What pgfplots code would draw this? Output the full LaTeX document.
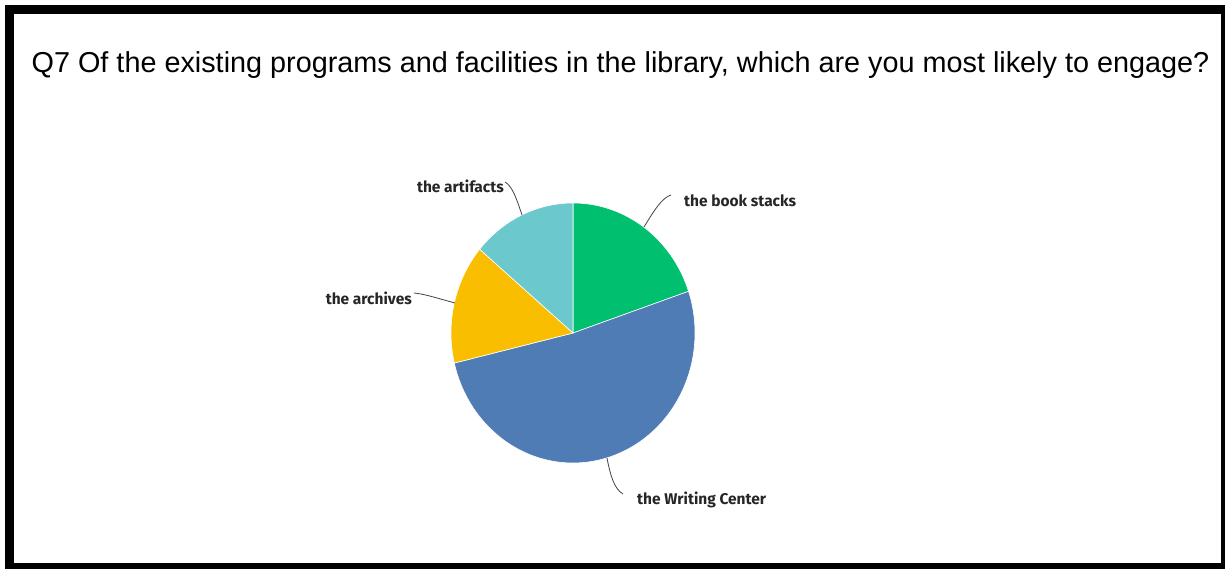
\documentclass[border=0pt]{standalone}
\usepackage{pgfplots}
\pgfplotsset{compat=1.18}
\usepackage{fontspec}
\setmainfont{Liberation Sans}
\newfontfamily\labfont{Fira Sans}
\definecolor{cGreen}{HTML}{00BF6F}
\definecolor{cBlue}{HTML}{507CB6}
\definecolor{cYellow}{HTML}{F9BE00}
\definecolor{cTeal}{HTML}{6BC8CD}
\definecolor{cLine}{HTML}{444444}
% counts of answers
\def\vBook{20}
\def\vWrit{52}
\def\vArch{15}
\def\vArti{14}
\pgfmathsetmacro\tot{\vBook+\vWrit+\vArch+\vArti}
\pgfmathsetmacro\unit{360/\tot}
\pgfmathsetmacro\aA{90}
\pgfmathsetmacro\aB{\aA-\unit*\vBook}
\pgfmathsetmacro\aC{\aB-\unit*\vWrit}
\pgfmathsetmacro\aD{\aC-\unit*\vArch}
\pgfmathsetmacro\aE{\aD-\unit*\vArti}
\begin{document}
\begin{tikzpicture}
\path (0pt,0pt) rectangle (1225pt,569pt);
\fill[black] (5pt,0pt) rectangle (1225pt,564pt);
\fill[white] (14pt,6pt) rectangle (1221pt,555pt);
\begin{axis}[at={(0pt,0pt)}, anchor=south west, scale only axis,
  width=1225pt, height=569pt, xmin=0, xmax=1225, ymin=0, ymax=569,
  hide axis, clip=false]
\addplot[fill=cGreen, draw=white, line width=0.6pt, domain=\aB:\aA, samples=60, variable=\t]
  ({573+122*cos(t)},{236+130*sin(t)}) -- (axis cs:573,236) -- cycle;
\addplot[fill=cBlue, draw=white, line width=0.6pt, domain=\aC:\aB, samples=120, variable=\t]
  ({573+122*cos(t)},{236+130*sin(t)}) -- (axis cs:573,236) -- cycle;
\addplot[fill=cYellow, draw=white, line width=0.6pt, domain=\aD:\aC, samples=50, variable=\t]
  ({573+122*cos(t)},{236+130*sin(t)}) -- (axis cs:573,236) -- cycle;
\addplot[fill=cTeal, draw=white, line width=0.6pt, domain=\aE:\aD, samples=50, variable=\t]
  ({573+122*cos(t)},{236+130*sin(t)}) -- (axis cs:573,236) -- cycle;
% leader lines
\draw[cLine, line width=0.8pt] (axis cs:644,342) .. controls (axis cs:655,360) and (axis cs:662,371) .. (axis cs:671,374);
\draw[cLine, line width=0.8pt] (axis cs:522,354) .. controls (axis cs:516,372) and (axis cs:512,383) .. (axis cs:505,387);
\draw[cLine, line width=0.8pt] (axis cs:455,266) .. controls (axis cs:440,270) and (axis cs:425,275) .. (axis cs:414,276);
\draw[cLine, line width=0.8pt] (axis cs:607,111) .. controls (axis cs:610,95) and (axis cs:614,80) .. (axis cs:623,75);
% labels
\node[anchor=west, inner sep=0pt, text=black!85, font=\labfont\bfseries\fontsize{15.5}{17}\selectfont] at (axis cs:684,368) {the book stacks};
\node[anchor=east, inner sep=0pt, text=black!85, font=\labfont\bfseries\fontsize{15.5}{17}\selectfont] at (axis cs:504,383) {the artifacts};
\node[anchor=east, inner sep=0pt, text=black!85, font=\labfont\bfseries\fontsize{15.5}{17}\selectfont] at (axis cs:412,271) {the archives};
\node[anchor=west, inner sep=0pt, text=black!85, font=\labfont\bfseries\fontsize{15.5}{17}\selectfont] at (axis cs:637,69) {the Writing Center};
% title
\node[inner sep=0pt, font=\fontsize{28.8}{32}\selectfont] at (axis cs:620.5,504) {Q7 Of the existing programs and facilities in the library, which are you most likely to engage?};
\end{axis}
\end{tikzpicture}
\end{document}
